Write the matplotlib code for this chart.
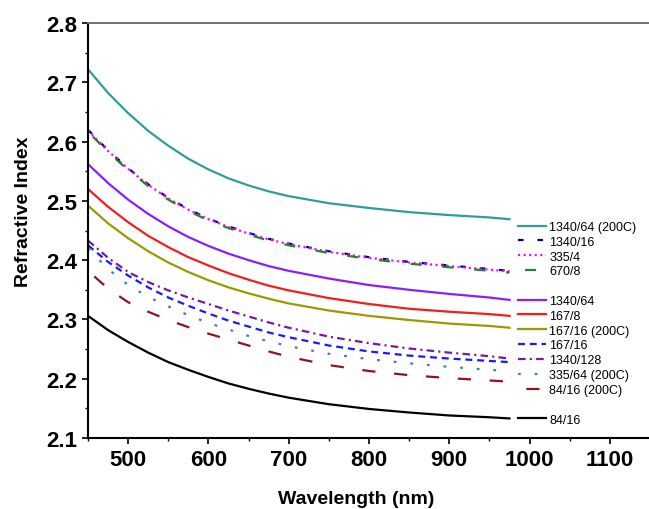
import matplotlib
matplotlib.use('Agg')
import matplotlib.pyplot as plt
from matplotlib.lines import Line2D

plt.rcParams['font.family'] = ['Liberation Sans', 'DejaVu Sans']
plt.rcParams['lines.scale_dashes'] = False

# wavelength (nm) where the curves were read
wl = [450, 475, 500, 525, 550, 575, 600, 625, 650, 675, 700, 750, 800, 850, 900, 950, 975]

n_1340_64_200 = [2.722, 2.682, 2.648, 2.618, 2.593, 2.571, 2.553, 2.538, 2.526, 2.516, 2.508, 2.496, 2.488, 2.481, 2.476, 2.472, 2.469]
n_1340_16 = [2.620, 2.585, 2.555, 2.528, 2.505, 2.486, 2.470, 2.457, 2.446, 2.436, 2.428, 2.415, 2.405, 2.397, 2.391, 2.385, 2.382]
n_335_4 = [2.619, 2.584, 2.554, 2.527, 2.504, 2.485, 2.469, 2.456, 2.445, 2.435, 2.427, 2.414, 2.404, 2.396, 2.390, 2.384, 2.381]
n_670_8 = [2.617, 2.582, 2.552, 2.525, 2.502, 2.483, 2.467, 2.454, 2.443, 2.433, 2.425, 2.412, 2.402, 2.394, 2.388, 2.382, 2.379]
n_1340_64 = [2.562, 2.530, 2.502, 2.478, 2.457, 2.439, 2.424, 2.411, 2.400, 2.390, 2.382, 2.369, 2.358, 2.350, 2.343, 2.337, 2.333]
n_167_8 = [2.520, 2.490, 2.464, 2.441, 2.422, 2.405, 2.391, 2.378, 2.367, 2.357, 2.349, 2.336, 2.326, 2.318, 2.313, 2.309, 2.306]
n_167_16_200 = [2.492, 2.462, 2.437, 2.415, 2.396, 2.380, 2.366, 2.354, 2.344, 2.335, 2.327, 2.315, 2.306, 2.299, 2.293, 2.289, 2.286]
n_167_16 = [2.425, 2.397, 2.374, 2.354, 2.337, 2.323, 2.310, 2.298, 2.288, 2.278, 2.270, 2.256, 2.246, 2.239, 2.234, 2.230, 2.228]
n_1340_128 = [2.433, 2.404, 2.380, 2.363, 2.349, 2.337, 2.326, 2.315, 2.305, 2.295, 2.286, 2.271, 2.260, 2.251, 2.244, 2.238, 2.234]
n_335_64_200 = [2.420, 2.385, 2.358, 2.338, 2.322, 2.307, 2.294, 2.283, 2.272, 2.263, 2.255, 2.242, 2.233, 2.226, 2.220, 2.215, 2.213]
n_84_16_200 = [2.382, 2.352, 2.329, 2.313, 2.299, 2.287, 2.276, 2.266, 2.256, 2.246, 2.237, 2.223, 2.213, 2.206, 2.201, 2.197, 2.195]
n_84_16 = [2.306, 2.282, 2.262, 2.244, 2.228, 2.215, 2.203, 2.192, 2.183, 2.175, 2.168, 2.157, 2.149, 2.143, 2.138, 2.135, 2.133]

series = [
    ('1340/64 (200C)', n_1340_64_200, '#2E9E96', '-'),
    ('1340/16', n_1340_16, '#000080', (0, (4, 10))),
    ('335/4', n_335_4, '#FF00FF', (0, (1.5, 2.5))),
    ('670/8', n_670_8, '#2E7D32', (18, (8, 15))),
    (None, None, None, None),
    ('1340/64', n_1340_64, '#8B1EFF', '-'),
    ('167/8', n_167_8, '#F01E1E', '-'),
    ('167/16 (200C)', n_167_16_200, '#9A9A00', '-'),
    ('167/16', n_167_16, '#1A1AFF', (0, (5, 3.5))),
    ('1340/128', n_1340_128, '#7A1A9A', (0, (5.5, 3, 1.5, 3))),
    ('335/64 (200C)', n_335_64_200, '#3C7FB1', (0, (2, 10))),
    ('84/16 (200C)', n_84_16_200, '#8B1520', (17, (9.5, 13.5))),
    (None, None, None, None),
    ('84/16', n_84_16, 'black', '-'),
]

fig = plt.figure(figsize=(6.49, 5.10), dpi=100)
ax = fig.add_axes([88 / 649, 1 - 439 / 510, 562 / 649, 415 / 510])

handles = []
for label, vals, color, ls in series:
    if vals is None:
        # blank row in the legend
        handles.append(Line2D([], [], linestyle='none', label=' '))
        continue
    line, = ax.plot(wl, vals, color=color, lw=1.6, linestyle=ls, label=label)
    handles.append(line)

ax.set_xlim(450, 1150)
ax.set_ylim(2.1, 2.8)
ax.set_xticks([500, 600, 700, 800, 900, 1000, 1100])
ax.set_xticks(range(450, 1151, 50), minor=True)
ax.set_yticks([2.1, 2.2, 2.3, 2.4, 2.5, 2.6, 2.7, 2.8])
ax.set_yticks([2.15, 2.25, 2.35, 2.45, 2.55, 2.65, 2.75], minor=True)

ax.tick_params(which='major', direction='out', length=4, width=1.2, pad=4, labelsize=16)
ax.tick_params(which='minor', direction='out', length=2.5, width=1.0)
for t in ax.get_xticklabels() + ax.get_yticklabels():
    t.set_fontweight('bold')

ax.spines['right'].set_visible(False)
ax.spines['top'].set_color('#707070')
ax.spines['top'].set_linewidth(1.4)
ax.spines['left'].set_linewidth(1.5)
ax.spines['bottom'].set_linewidth(1.5)

ax.set_xlabel('Wavelength (nm)', fontsize=14, fontweight='bold')
ax.xaxis.set_label_coords(0.477, -0.125)
ax.set_ylabel('Refractive Index', fontsize=14, fontweight='bold')
ax.yaxis.set_label_coords(-0.1, 0.547)

ax.legend(handles=handles, loc='upper left', bbox_to_anchor=(0.765, 0.523),
          frameon=False, fontsize=9, labelspacing=0.225, handlelength=2.25,
          handletextpad=0.25, borderpad=0, borderaxespad=0)

fig.savefig('out.png', dpi=100)
